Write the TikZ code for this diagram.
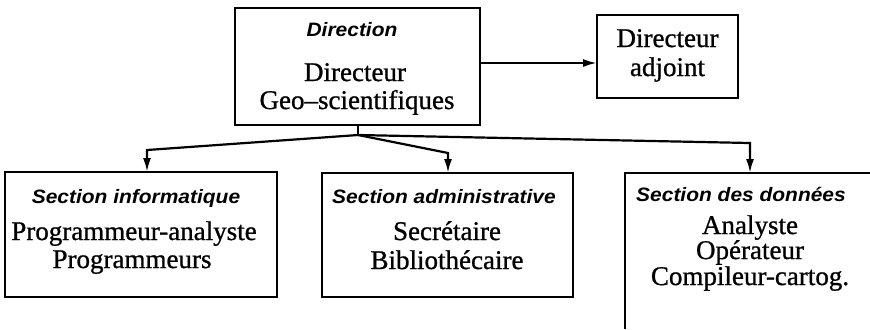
\documentclass[tikz,border=0pt]{standalone}
\usepackage{fontspec}
\setmainfont{Liberation Serif}[FakeBold=0.9]
\newfontfamily\titlefont[FakeStretch=1.08]{Liberation Sans}
\usetikzlibrary{arrows.meta}
\begin{document}
\begin{tikzpicture}[x=0.5pt,y=-0.5pt,
  box/.style={draw, line width=1.35pt, inner sep=0pt, outer sep=0pt},
  conn/.style={line width=1.1pt},
  arr/.style={conn, -{Latex[length=7pt,width=4pt]}},
  ttl/.style={anchor=base, inner sep=0pt, font=\titlefont\bfseries\itshape\fontsize{9.7}{10}\selectfont},
  txt/.style={anchor=base, inner sep=0pt, font=\fontsize{13.5}{15}\selectfont}]
\useasboundingbox (0,0) rectangle (870,329);
% boxes
\node[box, minimum width=122.5pt, minimum height=58.5pt] (dir) at (357.5,66.5) {};
\node[box, minimum width=70.5pt, minimum height=41.5pt] (adj) at (667.5,56.5) {};
\node[box, minimum width=136pt, minimum height=62.5pt] (info) at (141,234.5) {};
\node[box, minimum width=125.5pt, minimum height=62pt] (adm) at (447.5,235) {};
\node[inner sep=0pt, outer sep=0pt, minimum width=122.5pt, minimum height=78pt] (data) at (747.5,251) {};
\draw[line width=1.35pt] (data.south west) -- (data.north west) -- (data.north east);
% texts
\node[ttl] (t1) at (352,36) {Direction};
\node[txt] (t2) at (355,81) {Directeur};
\node[txt] (t3) at (357,109) {Geo--scientifiques};
\node[txt] (t4) at (667.5,47) {Directeur};
\node[txt] (t5) at (667.5,76) {adjoint};
\node[ttl] (t6) at (136,203) {Section informatique};
\node[txt] (t7) at (134,240) {Programmeur-analyste};
\node[txt] (t8) at (132,268) {Programmeurs};
\node[ttl] (t9) at (444,203) {Section administrative};
\node[txt] (t10) at (447,240) {Secrétaire};
\node[txt] (t11) at (447,269) {Bibliothécaire};
\node[ttl] (t12) at (741,201) {Section des données};
\node[txt] (t13) at (750,234) {Analyste};
\node[txt] (t14) at (750,259) {Opérateur};
\node[txt] (t15) at (750,285) {Compileur-cartog.};
% connectors
\coordinate (j) at (358,135);
\coordinate (b1) at (147,150);
\coordinate (b2) at (448,153);
\coordinate (b3) at (750,143);
\coordinate (ay) at (0,63);
\draw[conn] (dir.south -| j) -- (j);
\draw[arr] (j) -- (b1) -- (b1 |- info.north);
\draw[arr] (j) -- (b2) -- (b2 |- adm.north);
\draw[arr] (j) -- (b3) -- (b3 |- data.north);
\draw[arr] (ay -| dir.east) -- (ay -| adj.west);
\end{tikzpicture}
\end{document}
